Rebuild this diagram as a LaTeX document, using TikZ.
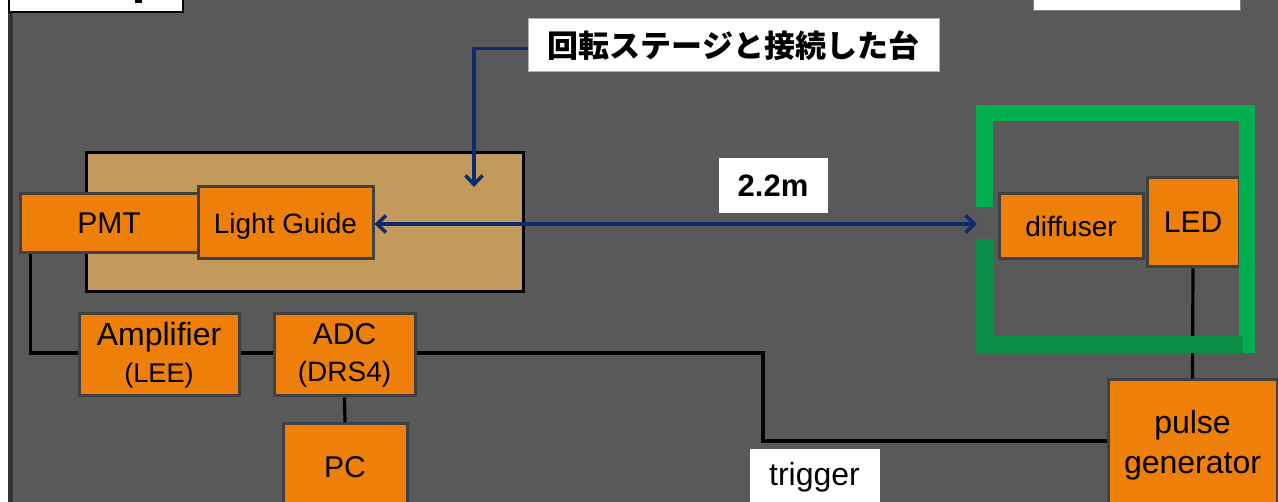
\documentclass[tikz,border=0pt]{standalone}
\usepackage{fontspec}
\setmainfont{Liberation Sans}
\newfontfamily\jp{Noto Sans CJK JP}
\usetikzlibrary{arrows.meta}
\definecolor{bg}{RGB}{89,89,89}
\definecolor{edge}{RGB}{51,51,51}
\definecolor{orng}{RGB}{238,127,8}
\definecolor{boxline}{RGB}{64,64,64}
\definecolor{stage}{RGB}{194,154,92}
\definecolor{navy}{RGB}{14,42,108}
\definecolor{gbright}{RGB}{0,176,80}
\definecolor{gdark}{RGB}{11,142,70}
\tikzset{
  obox/.style={draw=boxline, line width=3pt, fill=orng, inner sep=0pt, align=center, text=black},
  wbox/.style={draw=#1, line width=1pt, fill=white, inner sep=0pt, align=center, text=black},
  wire/.style={draw=black, line width=3.2pt},
  navyarrow/.style={draw=navy, line width=3.5pt, arrows={-Straight Barb[length=9pt,width=17pt]}},
  fA/.style={font=\fontsize{28}{40}\selectfont},
  fB/.style={font=\fontsize{30}{40}\selectfont},
  fC/.style={font=\fontsize{32}{40}\selectfont},
}
\begin{document}
\begin{tikzpicture}[x=1pt,y=-1pt]
\useasboundingbox (0,0) rectangle (1278,502);
% background
\fill[white] (0,0) rectangle (1278,502);
\fill[bg] (8,-5) rectangle (1290,510);
\fill[edge] (8,-5) rectangle (13,510);
% top white boxes (cut off)
\draw[fill=white, draw=black, line width=2pt] (9,-20) rectangle (183,12);
\fill[black] (135,-2) rectangle (142,3);
\draw[fill=white, draw=gray, line width=1pt] (1033,-20) rectangle (1240,11);
% stage
\node[draw=black, line width=3pt, fill=stage, minimum width=437pt, minimum height=139pt, inner sep=0pt] (stage) at (304.5,222.5) {};
% boxes
\node[obox, fB, minimum width=178pt, minimum height=59pt] (pmt) at (109,223.5) {PMT};
\node[obox, fA, text depth=0pt, minimum width=175pt, minimum height=72pt] (lg) at (285.5,223) {Light Guide};
\node[obox, fC, minimum width=160pt, minimum height=82pt] (amp) at (159,355) {Amplifier\\[-3pt]{\fontsize{27}{40}\selectfont(LEE)}};
\node[obox, fB, minimum width=141pt, minimum height=82pt] (adc) at (344.5,355) {ADC\\[-3pt]{\fontsize{28}{40}\selectfont(DRS4)}};
\node[obox, fB, minimum width=124pt, minimum height=96pt] (pc) at (345,472) {\raisebox{9pt}{PC}};
\node[obox, fC, minimum width=169pt, minimum height=130pt] (pulse) at (1192.5,445) {pulse\\generator};
\node[obox, fA, minimum width=144pt, minimum height=65pt] (diff) at (1071,226) {diffuser};
\node[obox, fB, minimum width=92pt, minimum height=89pt] (led) at (1193,222.5) {LED};
% labels
\node[wbox=white, fC, minimum width=129pt, minimum height=55pt] (trig) at (814.5,477.5) {trigger};
\node[wbox=white, font=\fontsize{31}{36}\selectfont\bfseries, minimum width=108pt, minimum height=54pt] (dist) at (773,186) {2.2m};
\node[wbox=gray!60, font=\fontsize{31}{36}\selectfont\jp\bfseries, minimum width=411pt, minimum height=53pt] (jp) at (733.5,45.5) {回転ステージと接続した台};
% wires
\coordinate (tbend) at (763,353);
\draw[wire] ([xshift=12pt]pmt.south west) |- ([yshift=2pt]amp.west);
\draw[wire] ([yshift=2pt]amp.east) -- ([yshift=2pt]adc.west);
\draw[wire] (adc.south) -- (pc.north);
\draw[wire] ([yshift=2pt]adc.east) -- (tbend) |- ([yshift=4pt]pulse.west);
\draw[wire] (led.south) -- (pulse.north);
% green frame
\draw[gbright, line width=16.5pt, line cap=butt, line join=miter] (984.5,207) -- (984.5,113) -- (1247,113) -- (1247,353);
\draw[gdark, line width=16.5pt, line cap=butt, line join=miter] (984.5,239) -- (984.5,344.5) -- (1243,344.5);
% arrows
\coordinate (gapc) at (977,224);
\coordinate (stagept) at (474,187);
\draw[navyarrow, arrows={Straight Barb[length=9pt,width=17pt]-Straight Barb[length=9pt,width=17pt]}] ([yshift=-1pt]lg.east) -- (gapc);
\draw[navyarrow] ([yshift=-3pt]jp.west) -| (stagept);
\end{tikzpicture}
\end{document}
